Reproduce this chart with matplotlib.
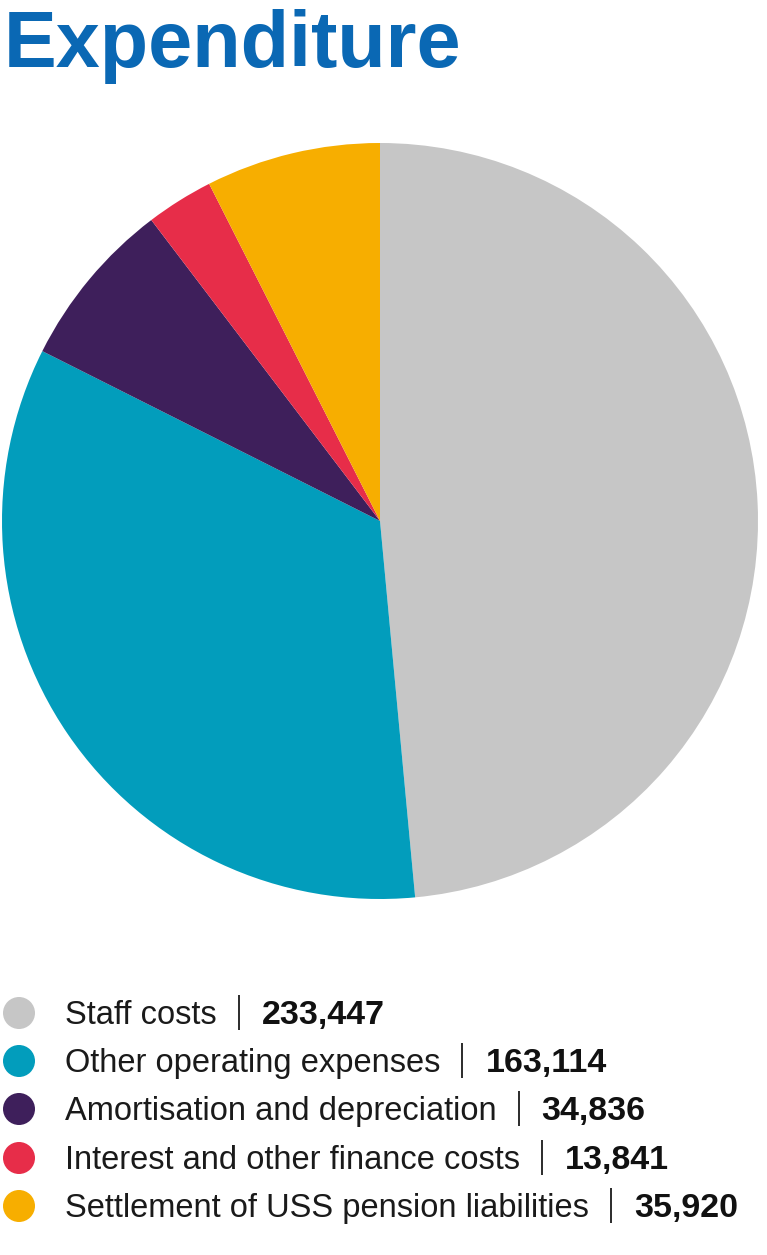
import matplotlib.pyplot as plt
from matplotlib.patches import Circle

labels = ["Staff costs", "Other operating expenses", "Amortisation and depreciation",
          "Interest and other finance costs", "Settlement of USS pension liabilities"]
values = [233447, 163114, 34836, 13841, 35920]
colors = ["#c6c6c6", "#029dbc", "#3e1f5b", "#e72d49", "#f7ae00"]

W, H = 767, 1255
fig = plt.figure(figsize=(W / 100, H / 100), dpi=100)
fig.patch.set_facecolor("white")
plt.rcParams["font.family"] = ["Liberation Sans", "DejaVu Sans"]

# pie: centre (380, 521) px from top-left, radius ~378 px
cx, cy, r = 380, 521, 378
ax = fig.add_axes([(cx - r) / W, (H - cy - r) / H, 2 * r / W, 2 * r / H])
ax.pie(values, colors=colors, startangle=90, counterclock=False, radius=1,
       wedgeprops=dict(linewidth=0))
ax.set_xlim(-1, 1)
ax.set_ylim(-1, 1)
ax.set_aspect("equal")
ax.axis("off")

# title
fig.text(4 / W, 1 - 67 / H, "Expenditure", fontsize=57, fontweight="bold",
         color="#0a68b4", ha="left", va="baseline")

# legend, drawn in pixel coords on an overlay axes
oax = fig.add_axes([0, 0, 1, 1], zorder=-1)
oax.axis("off")
oax.set_xlim(0, W)
oax.set_ylim(H, 0)

renderer = fig.canvas.get_renderer()
row_centres = [1013, 1061, 1109, 1158, 1206]
fs = 23.5
for lab, val, col, yc in zip(labels, values, colors, row_centres):
    oax.add_patch(Circle((19, yc), 16, color=col, linewidth=0))
    yb = 1 - (yc + 11) / H
    x = 65
    t = fig.text(x / W, yb, lab, fontsize=fs, color="#1a1a1a", ha="left", va="baseline")
    x += t.get_window_extent(renderer).width + 22
    oax.plot([x, x], [yc - 18, yc + 17], color="#1a1a1a", linewidth=1.3,
             solid_capstyle="butt")
    x += 23
    fig.text(x / W, yb, f"{val:,}", fontsize=24.5, fontweight="bold", color="#111111",
             ha="left", va="baseline")

plt.savefig("out.png", dpi=100)
